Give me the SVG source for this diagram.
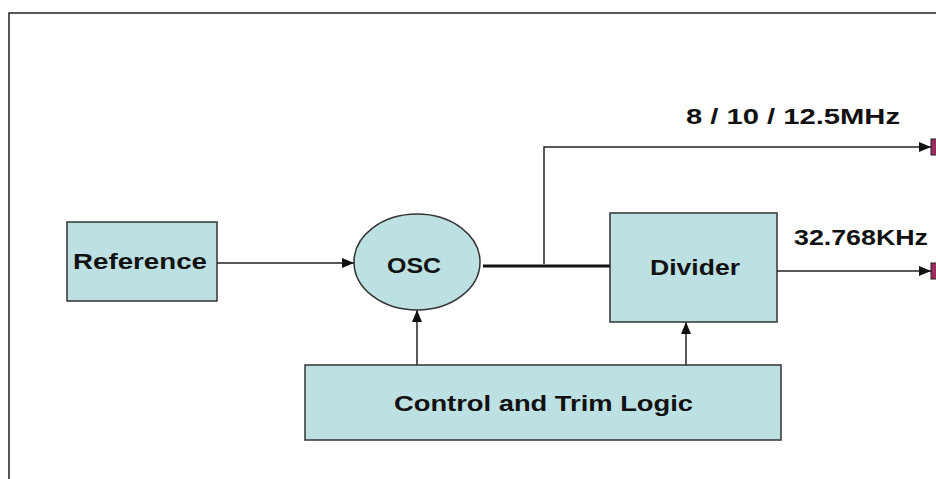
<svg xmlns="http://www.w3.org/2000/svg" width="936" height="479" viewBox="0 0 936 479">
<defs>
<style>
.box{fill:#bde0e3;stroke:#333;stroke-width:1.5}
.t{font-family:"Liberation Sans",Arial,sans-serif;font-weight:bold;font-size:22px;fill:#111}
.ln{stroke:#222;stroke-width:1.5;fill:none}
.term{fill:#9b2a5e;stroke:#222;stroke-width:1}
</style>
<marker id="ah" markerWidth="12" markerHeight="10" refX="12" refY="5" orient="auto" markerUnits="userSpaceOnUse">
<path d="M0,0 L12,5 L0,10 Z" fill="#111"/>
</marker>
</defs>
<rect width="936" height="479" fill="#fff"/>
<path d="M9,479 V13 H936" fill="none" stroke="#222" stroke-width="1.5"/>

<g id="connectors">
<line class="ln" x1="217" y1="263" x2="354" y2="263" marker-end="url(#ah)"/>
<line x1="483" y1="266" x2="611" y2="266" stroke="#111" stroke-width="3"/>
<polyline class="ln" points="544,264 544,147 931,147" marker-end="url(#ah)"/>
<line class="ln" x1="777" y1="271" x2="931" y2="271" marker-end="url(#ah)"/>
<line class="ln" x1="417" y1="365" x2="417" y2="310" marker-end="url(#ah)"/>
<line class="ln" x1="686" y1="365" x2="686" y2="322" marker-end="url(#ah)"/>
<rect class="term" x="931" y="139" width="6" height="16"/>
<rect class="term" x="931" y="263" width="6" height="16"/>
</g>

<g id="reference">
<rect class="box" x="67" y="222" width="150" height="79"/>
<text class="t" x="73" y="269" textLength="134" lengthAdjust="spacingAndGlyphs">Reference</text>
</g>
<g id="osc">
<ellipse class="box" cx="417" cy="262" rx="63" ry="48"/>
<text class="t" x="387" y="273" textLength="54" lengthAdjust="spacingAndGlyphs">OSC</text>
</g>
<g id="divider">
<rect class="box" x="610" y="213" width="167" height="109"/>
<text class="t" x="650" y="275" textLength="90" lengthAdjust="spacingAndGlyphs">Divider</text>
</g>
<g id="control">
<rect class="box" x="305" y="365" width="476" height="75"/>
<text class="t" x="394" y="411" textLength="299" lengthAdjust="spacingAndGlyphs">Control and Trim Logic</text>
</g>
<g id="labels">
<text class="t" x="686" y="124" textLength="214" lengthAdjust="spacingAndGlyphs">8 / 10 / 12.5MHz</text>
<text class="t" x="794" y="245" textLength="134" lengthAdjust="spacingAndGlyphs">32.768KHz</text>
</g>
</svg>
